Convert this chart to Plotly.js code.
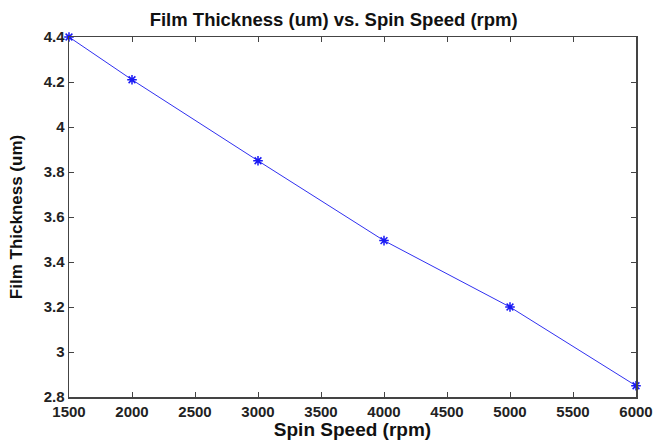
<!DOCTYPE html>
<html>
<head>
<meta charset="utf-8">
<script src="https://cdn.plot.ly/plotly-3.0.1.min.js"></script>
<style>html,body{margin:0;padding:0;background:#fff;}#chart{width:653px;height:445px;}</style>
</head>
<body>
<div id="chart"></div>
<script>
var spinSpeed = [1500, 2000, 3000, 4000, 5000, 6000];
var thickness = [4.40, 4.21, 3.85, 3.495, 3.20, 2.85];
var xTicks = [1500, 2000, 2500, 3000, 3500, 4000, 4500, 5000, 5500, 6000];
var yTicks = [2.8, 3.0, 3.2, 3.4, 3.6, 3.8, 4.0, 4.2, 4.4];
var yTickLabels = ['2.8', '3', '3.2', '3.4', '3.6', '3.8', '4', '4.2', '4.4'];

var font = 'Liberation Sans, Arial, sans-serif';
var trace = {
  x: spinSpeed, y: thickness, type: 'scatter', mode: 'lines+markers',
  line: {color: '#3030f0', width: 1},
  marker: {symbol: 'asterisk-open', size: 8, color: '#1a1af5', line: {color: '#1a1af5', width: 1.5}},
  hoverinfo: 'none', cliponaxis: false
};
var axisCommon = {
  showgrid: false, zeroline: false, showline: true, mirror: 'ticks',
  linecolor: '#444', linewidth: 1.5, ticks: 'inside', ticklen: 5, tickcolor: '#444',
  tickfont: {family: font, size: 15, color: '#222', weight: 'bold'}
};
var layout = {
  width: 653, height: 445,
  margin: {l: 69, r: 17, t: 37, b: 48},
  paper_bgcolor: '#fff', plot_bgcolor: '#fff',
  showlegend: false,
  title: {text: 'Film Thickness (um) vs. Spin Speed (rpm)', font: {family: font, size: 18.5, color: '#111', weight: 'bold'}, x: 0.511, xanchor: 'center', xref: 'container', y: 0.957, yanchor: 'middle'},
  xaxis: Object.assign({}, axisCommon, {
    range: [1500, 6000], tickvals: xTicks, ticktext: xTicks.map(String),
    title: {text: 'Spin Speed (rpm)', font: {family: font, size: 19, color: '#111', weight: 'bold'}, standoff: 4}
  }),
  yaxis: Object.assign({}, axisCommon, {
    range: [2.8, 4.4], tickvals: yTicks, ticktext: yTickLabels,
    title: {text: 'Film Thickness (um)', font: {family: font, size: 17, color: '#111', weight: 'bold'}, standoff: 16}
  })
};
Plotly.newPlot('chart', [trace], layout, {displayModeBar: false, staticPlot: true});
</script>
</body>
</html>
